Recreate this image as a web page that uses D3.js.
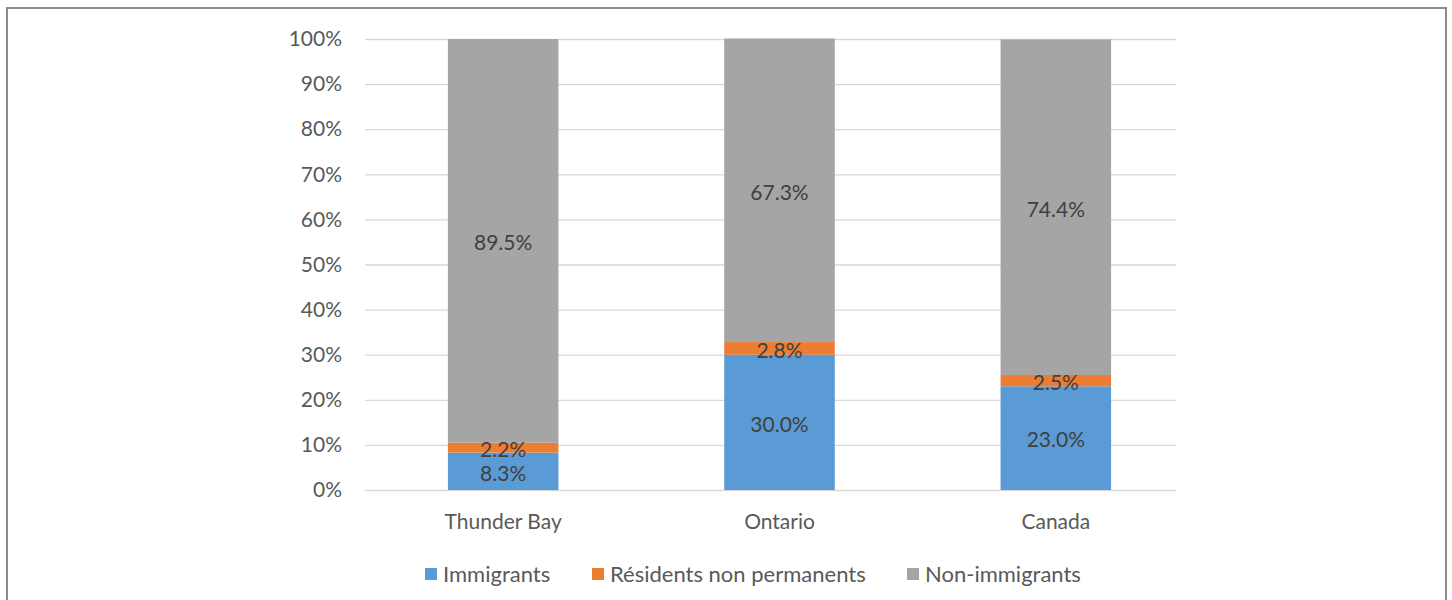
<!DOCTYPE html>
<html>
<head>
<meta charset="utf-8">
<script src="https://cdn.jsdelivr.net/npm/d3@7"></script>
<style>
  body { margin: 0; background: #fff; }
  text { font-family: Lato, "Open Sans", sans-serif; }
</style>
</head>
<body>
<div id="chart"></div>
<script>
var categories = ["Thunder Bay", "Ontario", "Canada"];
var seriesNames = ["Immigrants", "Résidents non permanents", "Non-immigrants"];
var immigrants = [8.3, 30.0, 23.0];
var nonPermanent = [2.2, 2.8, 2.5];
var nonImmigrants = [89.5, 67.3, 74.4];
var yTicks = [0, 10, 20, 30, 40, 50, 60, 70, 80, 90, 100];
var colors = ["#5B9BD5", "#ED7D31", "#A5A5A5"];

var width = 1452, height = 600;
var margin = { top: 39, bottom: 110, left: 365, right: 258 };
var gridRight = 1176;
var fontSize = "21px";

var rows = categories.map(function (c, i) {
    return { cat: c, Immigrants: immigrants[i], "Résidents non permanents": nonPermanent[i], "Non-immigrants": nonImmigrants[i] };
});

var svg = d3.select("#chart").append("svg")
    .attr("width", width)
    .attr("height", height);

// outer frame
svg.append("rect")
    .attr("x", 7).attr("y", 8)
    .attr("width", 1439).attr("height", 620)
    .attr("fill", "none")
    .attr("stroke", "#8c8c8c")
    .attr("stroke-width", 2);

var x = d3.scaleBand()
    .domain(categories)
    .range([margin.left, width - margin.right])
    .paddingInner(0.6)
    .paddingOuter(0.3);

var y = d3.scaleLinear()
    .domain([0, 100])
    .range([height - margin.bottom, margin.top]);

// gridlines
svg.append("g")
    .selectAll("line")
    .data(yTicks)
    .join("line")
    .attr("x1", margin.left)
    .attr("x2", gridRight)
    .attr("y1", function (d) { return y(d) + 0.5; })
    .attr("y2", function (d) { return y(d) + 0.5; })
    .attr("stroke", "#d9d9d9")
    .attr("stroke-width", 1.3);

// y axis labels
var yAxis = d3.axisLeft(y).tickValues(yTicks).tickSize(0).tickPadding(23)
    .tickFormat(function (d) { return d + "%"; });
var gy = svg.append("g")
    .attr("transform", "translate(" + margin.left + ",0)")
    .call(yAxis);
gy.select(".domain").remove();
gy.selectAll("text")
    .attr("fill", "#595959")
    .style("font-size", fontSize)
    .style("font-family", "Lato, sans-serif");

var stack = d3.stack().keys(seriesNames);
var stacked = stack(rows);

var layers = svg.append("g")
    .selectAll("g")
    .data(stacked)
    .join("g")
    .attr("fill", function (d, i) { return colors[i]; });

layers.selectAll("rect")
    .data(function (d) { return d; })
    .join("rect")
    .attr("x", function (d) { return x(d.data.cat); })
    .attr("width", x.bandwidth())
    .attr("y", function (d) { return y(d[1]); })
    .attr("height", function (d) { return y(d[0]) - y(d[1]); });

// data labels
svg.append("g")
    .selectAll("g")
    .data(stacked)
    .join("g")
    .selectAll("text")
    .data(function (d) { return d; })
    .join("text")
    .attr("x", function (d) { return x(d.data.cat) + x.bandwidth() / 2; })
    .attr("y", function (d) { return y((d[0] + d[1]) / 2) + 2; })
    .attr("dy", "0.35em")
    .attr("text-anchor", "middle")
    .attr("fill", "#404040")
    .style("font-size", fontSize)
    .text(function (d) { return (d[1] - d[0]).toFixed(1) + "%"; });

// x axis labels
var xAxis = d3.axisBottom(x).tickSize(0).tickPadding(24);
var gx = svg.append("g")
    .attr("transform", "translate(0," + (height - margin.bottom) + ")")
    .call(xAxis);
gx.select(".domain").remove();
gx.selectAll("text")
    .attr("fill", "#595959")
    .style("font-size", fontSize)
    .style("font-family", "Lato, sans-serif");

// legend
var legendX = [425, 592, 907];
var legend = svg.append("g")
    .selectAll("g")
    .data(seriesNames)
    .join("g")
    .attr("transform", function (d, i) { return "translate(" + legendX[i] + ",574)"; });
legend.append("rect")
    .attr("x", 0).attr("y", -6)
    .attr("width", 12).attr("height", 12)
    .attr("fill", function (d, i) { return colors[i]; });
legend.append("text")
    .attr("x", 18)
    .attr("dy", "0.35em")
    .attr("fill", "#595959")
    .style("font-size", "22px")
    .text(function (d) { return d; });
</script>
</body>
</html>
